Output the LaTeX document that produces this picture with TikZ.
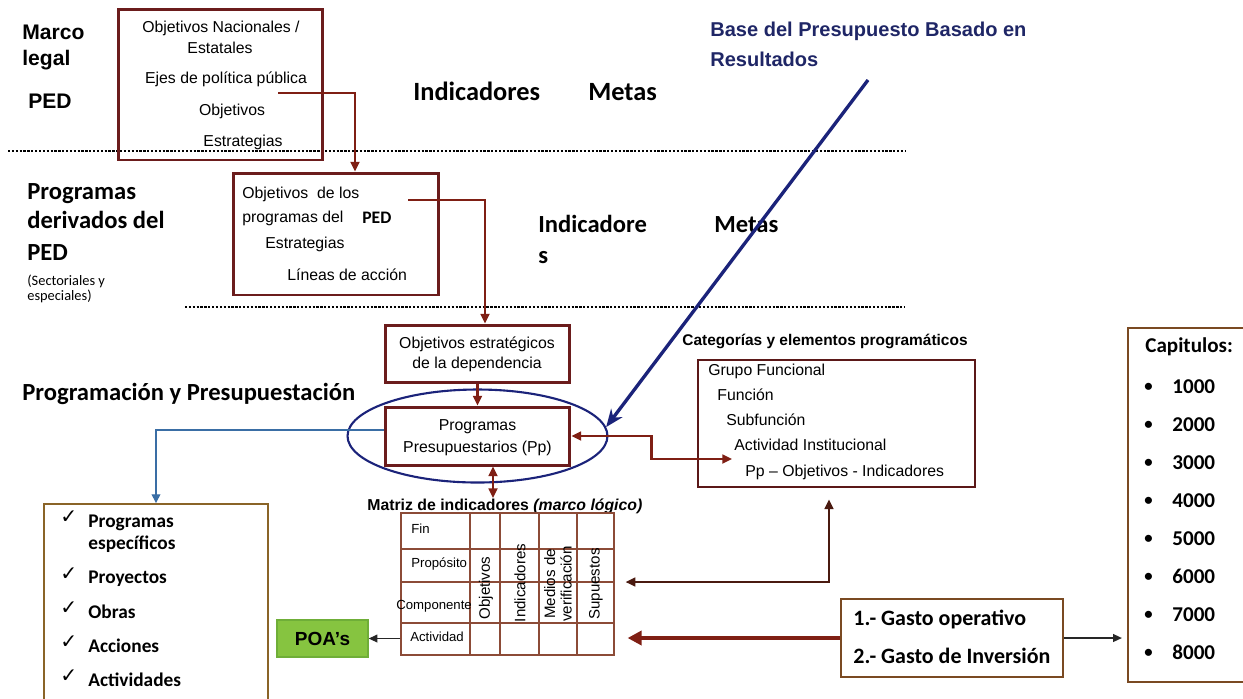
\documentclass[tikz,border=0pt]{standalone}
\usepackage{fontspec}
\setmainfont{Liberation Sans}
\newfontfamily\calib{Carlito}
\newfontfamily\symfont{DejaVu Sans}
\usetikzlibrary{arrows.meta,calc,positioning,shapes.geometric}

\definecolor{boxred}{HTML}{6B1C1C}
\definecolor{linkred}{HTML}{7F1F14}
\definecolor{darklink}{HTML}{4A1A10}
\definecolor{navyline}{HTML}{1B237A}
\definecolor{basetxt}{HTML}{1F2666}
\definecolor{steel}{HTML}{3A6EA5}
\definecolor{listbrown}{HTML}{8A6428}
\definecolor{capbrown}{HTML}{7A4A22}
\definecolor{gridbrown}{HTML}{8C4B37}
\definecolor{poafill}{HTML}{86C440}
\definecolor{poadraw}{HTML}{6FAE38}

\newcommand\boxtxt{\fontsize{9}{11}\selectfont}
\newcommand\sidetxt{\bfseries\fontsize{12}{14}\selectfont}
\newcommand\headtxt{\calib\bfseries\fontsize{14}{17}\selectfont}
\newcommand\bigtxt{\calib\bfseries\fontsize{15}{18}\selectfont}
\newcommand\capstxt{\calib\bfseries\fontsize{12}{14}\selectfont}
\newcommand\listtxt{\calib\bfseries\fontsize{11}{13}\selectfont}
\newcommand\rowtxt{\fontsize{7.5}{9}\selectfont}
\newcommand\coltxt{\fontsize{8.6}{9.4}\selectfont}

\tikzset{
  redtip/.tip={Triangle[length=5.5pt,width=5pt]},
  lbl/.style={inner sep=0pt, anchor=base west},
  clbl/.style={inner sep=0pt, anchor=base},
  btext/.style={lbl, font=\boxtxt},
  ctext/.style={clbl, font=\boxtxt},
  redbox/.style={draw=boxred, line width=1.7pt, inner sep=0pt},
  link/.style={draw=linkred, line width=1.3pt, -redtip},
  dlink/.style={draw=linkred, line width=1.3pt, redtip-redtip},
  sepline/.style={line width=0.8pt, dash pattern=on 1.3pt off 0.9pt},
  gridline/.style={draw=gridbrown, line width=0.7pt},
  checkmk/.style={lbl, font=\symfont\bfseries\fontsize{11.5}{13}\selectfont},
  thinlink/.style={draw=black!85, line width=0.7pt, -{Triangle[length=5pt,width=4.5pt]}}
}

\begin{document}
\begin{tikzpicture}[x=0.02cm,y=-0.02cm]
\path[use as bounding box, fill=white] (0,0) rectangle (1243,698);

% separators
\draw[sepline] (8,151) -- (905,151);
\draw[sepline] (185,307) -- (905,307);

% left titles
\node[lbl, font=\sidetxt] (marco) at (22,39) {Marco};
\node[lbl, font=\sidetxt] (legal) at (22,65) {legal};
\node[lbl, font=\sidetxt] (ped) at (28,108) {PED};
\node[lbl, font=\headtxt] (progder) at (27,199) {Programas};
\node[lbl, font=\headtxt] (deriv) at (27,228) {derivados del};
\node[lbl, font=\headtxt] (ped2) at (27,260) {PED};
\node[lbl, font=\calib\fontsize{8.2}{9}\selectfont] (sect) at (27,285) {(Sectoriales y};
\node[lbl, font=\calib\fontsize{8.2}{9}\selectfont] (espec) at (27,300) {especiales)};
\node[lbl, font=\headtxt] (progpres) at (22,400) {Programación y Presupuestación};

% PED box
\node[redbox, minimum width=4.1cm, minimum height=3.02cm] (box1) at (220.5,84.5) {};
\node[ctext] (nac) at (221,32) {Objetivos Nacionales /};
\node[ctext] (estat) at (220,53) {Estatales};
\node[ctext] (ejes) at (226,83) {Ejes de política pública};
\node[ctext] (obj1) at (232,115) {Objetivos};
\node[ctext] (estr1) at (243,146) {Estrategias};

\node[lbl, font=\bigtxt] (ind1) at (413,100) {Indicadores};
\node[lbl, font=\bigtxt] (met1) at (588,100) {Metas};

% derived programmes box
\node[redbox, minimum width=4.12cm, minimum height=2.44cm] (box2) at (336,234) {};
\node[btext] (obj2) at (242,198) {Objetivos\ \ de los};
\node[btext] (prog2) at (242,222) {programas del};
\node[lbl, font=\calib\bfseries\fontsize{10}{12}\selectfont] (ped3) at (362,223) {PED};
\node[btext] (estr2) at (265,248) {Estrategias};
\node[btext] (lin2) at (287,280) {Líneas de acción};

\node[lbl, font=\headtxt] (ind2) at (538,232) {Indicadore};
\node[lbl, font=\headtxt] (ind2s) at (538,263) {s};
\node[lbl, font=\headtxt] (met2) at (714,232) {Metas};

% base PbR
\node[lbl, font=\bfseries\fontsize{11.4}{13}\selectfont, text=basetxt] (base1) at (710,36) {Base del Presupuesto Basado en};
\node[lbl, font=\bfseries\fontsize{11.4}{13}\selectfont, text=basetxt] (base2) at (710,66) {Resultados};

% dependency boxes
\node[redbox, minimum width=3.7cm, minimum height=1.14cm] (box3) at (477.5,353.5) {};
\node[ctext] (oe1) at (477,348) {Objetivos estratégicos};
\node[ctext] (oe2) at (477,368) {de la dependencia};
\node[redbox, minimum width=3.7cm, minimum height=1.16cm] (box4) at (477.5,436) {};
\node[ctext] (pp1) at (477.5,430) {Programas};
\node[ctext] (pp2) at (477.5,452) {Presupuestarios (Pp)};
\node[draw=navyline, line width=1.2pt, ellipse, inner sep=0pt, minimum width=5.2cm, minimum height=1.86cm] (ring) at (477.5,436) {};

% programmatic categories
\node[lbl, font=\bfseries\fontsize{8.8}{10}\selectfont] (cattitle) at (682,345) {Categorías y elementos programáticos};
\node[draw=boxred!85!black, line width=1.6pt, inner sep=0pt, minimum width=5.54cm, minimum height=2.54cm] (cat) at (836.5,423.5) {};
\node[btext] (grupo) at (708,375) {Grupo Funcional};
\node[btext] (func) at (717,400) {Función};
\node[btext] (subf) at (726,425) {Subfunción};
\node[btext] (activ) at (734,450) {Actividad Institucional};
\node[btext] (ppobj) at (745,476) {Pp – Objetivos - Indicadores};

% indicator matrix
\node[lbl, font=\bfseries\fontsize{9}{11}\selectfont] (mattitle) at (367,510) {Matriz de indicadores \textit{(marco lógico)}};
\node[draw=gridbrown, line width=0.7pt, inner sep=0pt, minimum width=4.26cm, minimum height=2.84cm] (mat) at (507.5,584) {};
\foreach \xv in {470,500,539,577} \draw[gridline] (\xv,513) -- (\xv,655);
\foreach \yv in {549,582,623} \draw[gridline] (401,\yv) -- (614,\yv);
\node[lbl, font=\rowtxt] (fin) at (411,533) {Fin};
\node[lbl, font=\rowtxt] (proposito) at (411,567) {Propósito};
\node[lbl, font=\rowtxt] (compon) at (396,609) {Componente};
\node[lbl, font=\rowtxt] (activid) at (410,641) {Actividad};
\node[rotate=90, inner sep=0pt, font=\coltxt] (cobj) at (486,588) {Objetivos};
\node[rotate=90, inner sep=0pt, font=\coltxt] (cind) at (520,583) {Indicadores};
\node[rotate=90, inner sep=0pt, font=\coltxt, align=center] (cmed) at (558,584) {Medios de\\verificación};
\node[rotate=90, inner sep=0pt, font=\coltxt] (csup) at (596,584) {Supuestos};

% POA
\node[draw=poadraw, fill=poafill, line width=0.8pt, inner sep=0pt, minimum width=1.82cm, minimum height=0.74cm, font=\bfseries\fontsize{10.8}{12}\selectfont] (poa) at (322.5,638.5) {POA’s};

% list box
\node[draw=listbrown, line width=1.1pt, inner sep=0pt, minimum width=4.48cm, minimum height=4.32cm] (list) at (156,612) {};
\node[checkmk] (chk1) at (60,523) {✓};
\node[checkmk] (chk2) at (60,580) {✓};
\node[checkmk] (chk3) at (60,614) {✓};
\node[checkmk] (chk4) at (60,648) {✓};
\node[checkmk] (chk5) at (60,682) {✓};
\node[lbl, font=\listtxt] (li1) at (88,527) {Programas};
\node[lbl, font=\listtxt] (li1b) at (88,549) {específicos};
\node[lbl, font=\listtxt] (li2) at (88,583) {Proyectos};
\node[lbl, font=\listtxt] (li3) at (88,618) {Obras};
\node[lbl, font=\listtxt] (li4) at (88,652) {Acciones};
\node[lbl, font=\listtxt] (li5) at (88,686) {Actividades};

% spending
\node[draw=capbrown, line width=1.3pt, inner sep=0pt, minimum width=4.44cm, minimum height=1.56cm] (gasto) at (952,638) {};
\node[lbl, font=\calib\bfseries\fontsize{12.5}{14}\selectfont] (g1) at (853,625) {1.- Gasto operativo};
\node[lbl, font=\calib\bfseries\fontsize{12.5}{14}\selectfont] (g2) at (853,663) {2.- Gasto de Inversión};

% chapters
\node[draw=capbrown, line width=1.3pt, inner sep=0pt, minimum width=2.9cm, minimum height=7.08cm] (cap) at (1200.5,505) {};
\node[lbl, font=\capstxt] (captitle) at (1145,352) {Capitulos:};
\foreach \n [count=\i] in {1000,2000,3000,4000,5000,6000,7000,8000}{
  \node[lbl, font=\calib\bfseries\fontsize{9.5}{11}\selectfont] (bul\n) at (1144,{391+38.1*(\i-1)}) {\textbullet};
  \node[lbl, font=\capstxt] (cap\n) at (1172,{393+38.1*(\i-1)}) {\n};
}

% connectors
\coordinate (c1) at (278,93);
\coordinate (c2) at (408,200);
\coordinate (catin) at (732,459);
\coordinate (basetop) at (868,80);
\draw[link] (c1) -| ([xshift=0.38cm]box2.north);
\draw[link] (c2) -| ([xshift=0.15cm]box3.north);
\draw[link] (box3) -- (box4);
\draw[dlink] ([xshift=0.31cm]box4.south) -- ([xshift=0.31cm]box4.south |- mattitle.north);
\draw[dlink] (box4.east) -- ++(80,0) |- (catin);
\draw[draw=darklink, line width=1.1pt, redtip-redtip] ($(cat.south)+(-7.5,11)$) |- ($(mat.east)+(11,-2)$);
\draw[draw=linkred, line width=2.4pt, -{Triangle[length=8pt,width=8pt]}] (gasto.west) -- ($(mat.east |- gasto.west)+(13,0)$);
\draw[thinlink] (gasto.east) -- ($(cap.west |- gasto.east)+(-5,0)$);
\draw[thinlink] (mat.west |- poa.east) -- (poa.east);
\draw[draw=steel, line width=0.7pt, -{Triangle[length=5pt,width=5pt]}] ([yshift=0.12cm]box4.west) -| (list.north);
\draw[draw=navyline, line width=1.9pt, -{Stealth[length=10pt,width=8pt]}] (basetop) -- (ring.4);
\end{tikzpicture}
\end{document}
